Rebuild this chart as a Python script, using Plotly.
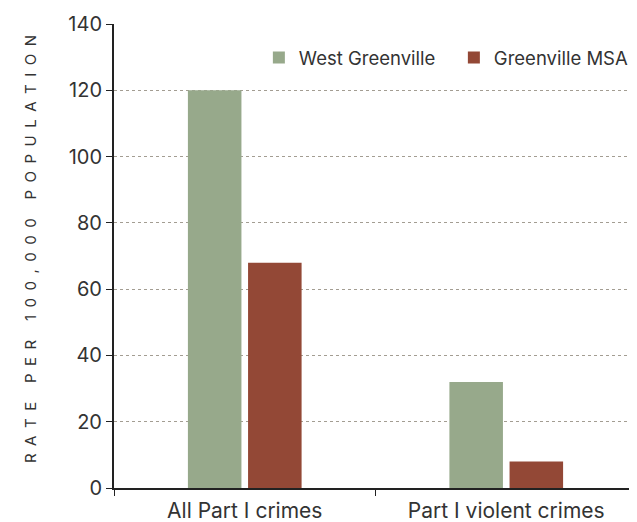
import plotly.graph_objects as go

categories = ["All Part I crimes", "Part I violent crimes"]
west_greenville = [120, 32]
greenville_msa = [68, 8]
series_names = ["West Greenville", "Greenville MSA"]
y_ticks = [0, 20, 40, 60, 80, 100, 120, 140]

title_text = "RATE PER 100,000 POPULATION"
spaced_title = "\u2002".join(list(title_text)).replace("\u2002 \u2002", "\u2002\u2002\u2005")

fig = go.Figure()
fig.add_trace(go.Bar(x=categories, y=west_greenville, name=series_names[0],
                     marker=dict(color="#97a98b", line=dict(width=0))))
fig.add_trace(go.Bar(x=categories, y=greenville_msa, name=series_names[1],
                     marker=dict(color="#934836", line=dict(width=0))))

font_family = "Inter, Liberation Sans, Arial, sans-serif"
# The page body has an 8px margin, so the figure is 8px smaller each way.
fig.update_layout(
    width=629, height=514,
    margin=dict(l=106, r=0, t=16, b=34, autoexpand=False),
    paper_bgcolor="white", plot_bgcolor="white",
    barmode="group", bargap=0.54, bargroupgap=0.11,
    font=dict(family=font_family, color="#333333"),
    showlegend=True,
    legend=dict(orientation="h", x=0.277, xanchor="left", y=0.927, yanchor="middle",
                font=dict(size=18.5, color="#333333"), bgcolor="rgba(0,0,0,0)",
                entrywidth=150, traceorder="normal"),
    xaxis=dict(
        automargin=False,
        showline=True, linecolor="#222222", linewidth=2,
        ticks="outside", tickson="boundaries", ticklen=6, tickcolor="#222222",
        tickfont=dict(size=21, color="#333333"), ticklabelstandoff=3, showgrid=False,
    ),
    yaxis=dict(
        automargin=False,
        range=[0, 140], tickvals=y_ticks,
        showline=True, linecolor="#222222", linewidth=2,
        ticks="outside", ticklen=6, tickcolor="#222222",
        tickfont=dict(size=20, color="#333333"), ticklabelstandoff=0,
        showgrid=True, gridcolor="#a39d92", gridwidth=1, griddash="dot",
        zeroline=False,
    ),
    annotations=[dict(
        text=spaced_title, textangle=-90, xref="paper", yref="paper",
        x=-0.1606, y=0.515, xanchor="center", yanchor="middle", showarrow=False,
        font=dict(size=15, color="#333333"),
    )],
)

fig.write_html("out.html")
